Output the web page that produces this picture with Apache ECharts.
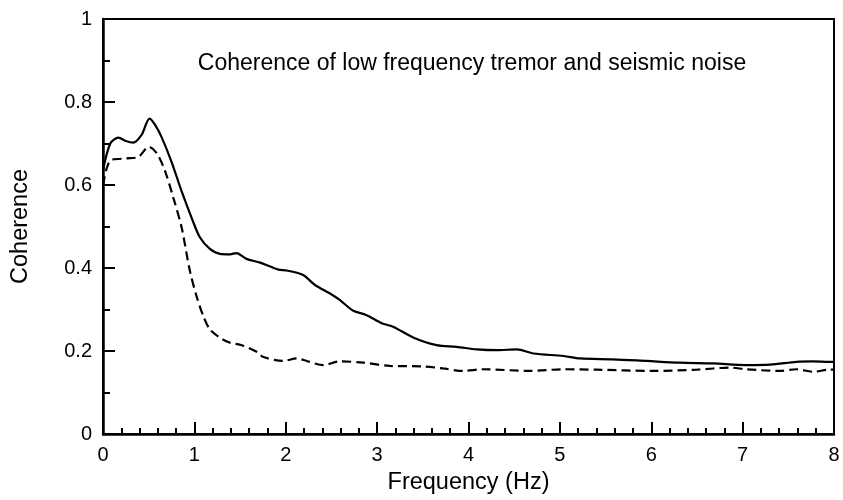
<!DOCTYPE html>
<html><head><meta charset="utf-8">
<script src="https://cdn.jsdelivr.net/npm/echarts@6/dist/echarts.min.js"></script>
<style>html,body{margin:0;padding:0;background:#fff}#c{width:843px;height:500px}</style>
</head><body><div id="c"></div>
<script>
const titleText = 'Coherence of low frequency tremor and seismic noise';
const xName = 'Frequency (Hz)';
const yName = 'Coherence';

const solidFreq = [0,0.08,0.17,0.25,0.33,0.42,0.51,0.57,0.64,0.75,0.86,0.97,1.06,1.17,1.28,1.39,1.46,1.57,1.72,1.92,2.01,2.19,2.32,2.48,2.59,2.74,2.88,3.05,3.18,3.40,3.65,3.87,4.09,4.31,4.53,4.71,5.04,5.22,5.58,5.95,6.31,6.68,7.04,7.30,7.59,7.77,7.95,8.0];
const solidCoh  = [0.635,0.700,0.714,0.706,0.702,0.720,0.760,0.745,0.716,0.656,0.585,0.521,0.474,0.446,0.434,0.433,0.436,0.422,0.413,0.396,0.394,0.383,0.359,0.339,0.323,0.297,0.287,0.267,0.258,0.232,0.214,0.210,0.204,0.202,0.204,0.194,0.188,0.182,0.180,0.176,0.172,0.170,0.166,0.167,0.174,0.175,0.174,0.174];

const dashFreq = [0,0.04,0.09,0.26,0.39,0.50,0.59,0.68,0.77,0.86,0.95,1.025,1.10,1.17,1.28,1.39,1.52,1.70,1.75,1.97,2.12,2.23,2.41,2.59,2.85,3.14,3.50,3.72,3.94,4.16,4.67,5.04,5.40,6.02,6.50,6.86,7.04,7.41,7.59,7.77,7.95,8.0];
const dashCoh  = [0.600,0.640,0.660,0.664,0.668,0.692,0.676,0.633,0.569,0.498,0.394,0.331,0.283,0.252,0.232,0.220,0.214,0.196,0.186,0.176,0.182,0.176,0.166,0.175,0.172,0.164,0.163,0.158,0.152,0.156,0.152,0.156,0.155,0.152,0.155,0.160,0.156,0.152,0.156,0.150,0.155,0.155];

const toPairs = (xs, ys) => xs.map((x, i) => [x, ys[i]]);
const font = 'Liberation Sans, Arial, Helvetica, sans-serif';

const chart = echarts.init(document.getElementById('c'), null, {renderer: 'canvas'});
chart.setOption({
  animation: false,
  backgroundColor: '#fff',
  grid: {left: 103, right: 9, top: 19, bottom: 61, show: true, borderColor: '#000', borderWidth: 2},
  title: {text: titleText, left: 467, top: 47, textAlign: 'center',
    textStyle: {fontFamily: font, fontSize: 23, fontWeight: 'normal', color: '#000'}},
  xAxis: {
    type: 'value', min: 0, max: 8, interval: 1,
    name: xName, nameLocation: 'middle', nameGap: 37,
    nameTextStyle: {fontFamily: font, fontSize: 23.5, color: '#000'},
    axisLine: {lineStyle: {color: '#000', width: 2.5}},
    axisTick: {inside: true, length: 12, lineStyle: {color: '#000', width: 2}},
    minorTick: {show: true, splitNumber: 5, length: 6, lineStyle: {color: '#000', width: 2}},
    axisLabel: {margin: 11, fontFamily: font, fontSize: 20, color: '#000'},
    splitLine: {show: false}
  },
  yAxis: {
    type: 'value', min: 0, max: 1, interval: 0.2,
    name: yName, nameLocation: 'middle', nameGap: 70,
    nameTextStyle: {fontFamily: font, fontSize: 23.5, color: '#000'},
    axisLine: {lineStyle: {color: '#000', width: 2.5}},
    axisTick: {inside: true, length: 12, lineStyle: {color: '#000', width: 2}},
    minorTick: {show: true, splitNumber: 2, length: 7, lineStyle: {color: '#000', width: 2}},
    axisLabel: {margin: 11, fontFamily: font, fontSize: 20, color: '#000'},
    splitLine: {show: false}
  },
  series: [
    {type: 'line', data: toPairs(solidFreq, solidCoh), showSymbol: false, smooth: 0.3,
     lineStyle: {color: '#000', width: 2.2}},
    {type: 'line', data: toPairs(dashFreq, dashCoh), showSymbol: false, smooth: 0.3,
     lineStyle: {color: '#000', width: 2.2, type: [9, 5]}}
  ]
});
</script></body></html>
